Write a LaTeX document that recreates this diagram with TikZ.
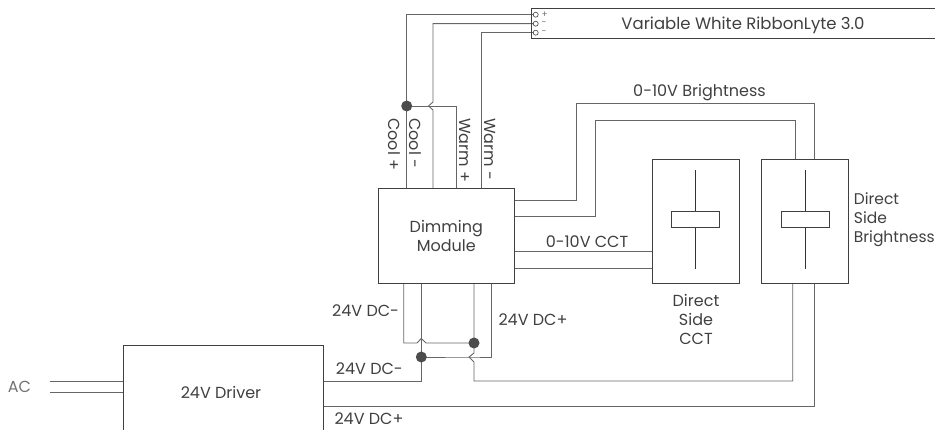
\documentclass[tikz,border=0pt]{standalone}
\usepackage{fontspec}
\setmainfont{Poppins}
\tikzset{
 wire/.style={draw=black!60,line width=0.9pt},
 darkwire/.style={draw=black!80,line width=0.9pt},
 boxs/.style={draw=black!75,line width=1pt,fill=white,inner sep=0pt},
 lab/.style={text=black!75,font=\fontsize{16}{19}\selectfont,inner sep=0pt,align=center},
 dot/.style={circle,fill=black!70,minimum size=11pt,inner sep=0pt},
 term/.style={circle,draw=black!75,fill=white,minimum size=5pt,inner sep=0pt,line width=0.6pt}
}
\begin{document}
\begin{tikzpicture}[x=1pt,y=-1pt]
\useasboundingbox (0,0) rectangle (935,430);
\coordinate (t1) at (535.7,14.7); \coordinate (t2) at (535.7,23.7); \coordinate (t3) at (535.7,32.7);
% wires top
\draw[wire] (406.7,188) -- (406.7,14.7) -- (t1);
\draw[wire] (433,188) -- (433,110) -- (428.5,106) -- (433,102) -- (433,23.7) -- (t2);
\draw[wire] (481.7,188) -- (481.7,32.7) -- (t3);
\draw[wire] (406.7,106) -- (428.5,106);
\draw[wire] (428.5,106) -- (456.7,106) -- (456.7,188);
% ribbon
\draw[boxs,fill=none] (936,9) -- (531,9) -- (531,38.7) -- (936,38.7);
\node[term] (a) at (t1) {}; \node[term] (b) at (t2) {}; \node[term] (c) at (t3) {};
\node[lab,font=\fontsize{9}{10}\selectfont,anchor=west,text=black!55] at (541.5,14.7) {+};
\node[lab,font=\fontsize{9}{10}\selectfont,anchor=west,text=black!55] at (541.5,23.7) {-};
\node[lab,font=\fontsize{9}{10}\selectfont,anchor=west,text=black!55] at (541.5,32.7) {-};
\node[lab,anchor=center,font=\fontsize{16.5}{19}\selectfont] (rib) at (743,25) {Variable White RibbonLyte 3.0};
% dots
\node[dot] (d1) at (406.7,106) {};
% lower wires
\draw[wire] (403.7,283.7) -- (403.7,343) -- (417,343) -- (421.3,338.5) -- (426,343) -- (474,343);
\draw[wire] (421.3,283.7) -- (421.3,381) -- (323.3,381);
\draw[wire] (421.3,357) -- (469,357) -- (491,357) -- (491,283.7);
\draw[wire] (474,283.7) -- (474,353) -- (469,357) -- (474,362) -- (474,381) -- (792.7,381) -- (792.7,283.7);
\draw[wire] (323.3,406.7) -- (814.3,406.7) -- (814.3,283.7);
\node[dot] (d2) at (474,343) {};
\node[dot] (d3) at (421.3,357) {};
% control wires
\draw[wire] (514,200) -- (576.3,200) -- (576.3,103) -- (814.3,103) -- (814.3,160);
\draw[wire] (514,216) -- (595.3,216) -- (595.3,120) -- (795.3,120) -- (795.3,160);
\draw[wire] (514,251.7) -- (652.3,251.7);
\draw[wire] (514,268.3) -- (652.3,268.3);
\draw[wire] (50,381) -- (123.3,381);
\draw[wire] (50,392.3) -- (123.3,392.3);
% boxes
\draw[boxs] (378.3,188.3) rectangle (514.3,283.7);
\node[lab] (dm) at (446.3,236) {Dimming\\Module};
\draw[boxs] (123.3,440) -- (123.3,345.7) -- (323.3,345.7) -- (323.3,440);
\node[lab] (drv) at (221,392) {24V Driver};
\foreach \xa/\xb in {652.3/739,761.7/848.3}{
 \draw[boxs] (\xa,159.7) rectangle (\xb,283.7);
 \draw[darkwire] ({(\xa+\xb)/2},170) -- ({(\xa+\xb)/2},269);
 \draw[boxs] ({(\xa+\xb)/2-24},211.3) rectangle ({(\xa+\xb)/2+24},228);
}
% labels
\node[lab,rotate=-90,anchor=west] at (394,118) {Cool +};
\node[lab,rotate=-90,anchor=west] at (415.7,118) {Cool -};
\node[lab,rotate=-90,anchor=west] at (465,118) {Warm +};
\node[lab,rotate=-90,anchor=west] at (490,118) {Warm -};
\node[lab] at (699.5,92.7) {0-10V Brightness};
\node[lab] at (587,241.7) {0-10V CCT};
\node[lab] at (696,319) {Direct\\Side\\CCT};
\node[lab,anchor=west,align=left,font=\fontsize{15.5}{19}\selectfont] at (853.7,220) {Direct\\Side\\Brightness};
\node[lab,anchor=west] at (332,310.7) {24V DC-};
\node[lab,anchor=west] at (498.3,320) {24V DC+};
\node[lab,anchor=west] at (335.7,369) {24V DC-};
\node[lab,anchor=west] at (334.3,419) {24V DC+};
\node[lab,text=black!55] at (19.5,386.7) {AC};
\end{tikzpicture}
\end{document}
